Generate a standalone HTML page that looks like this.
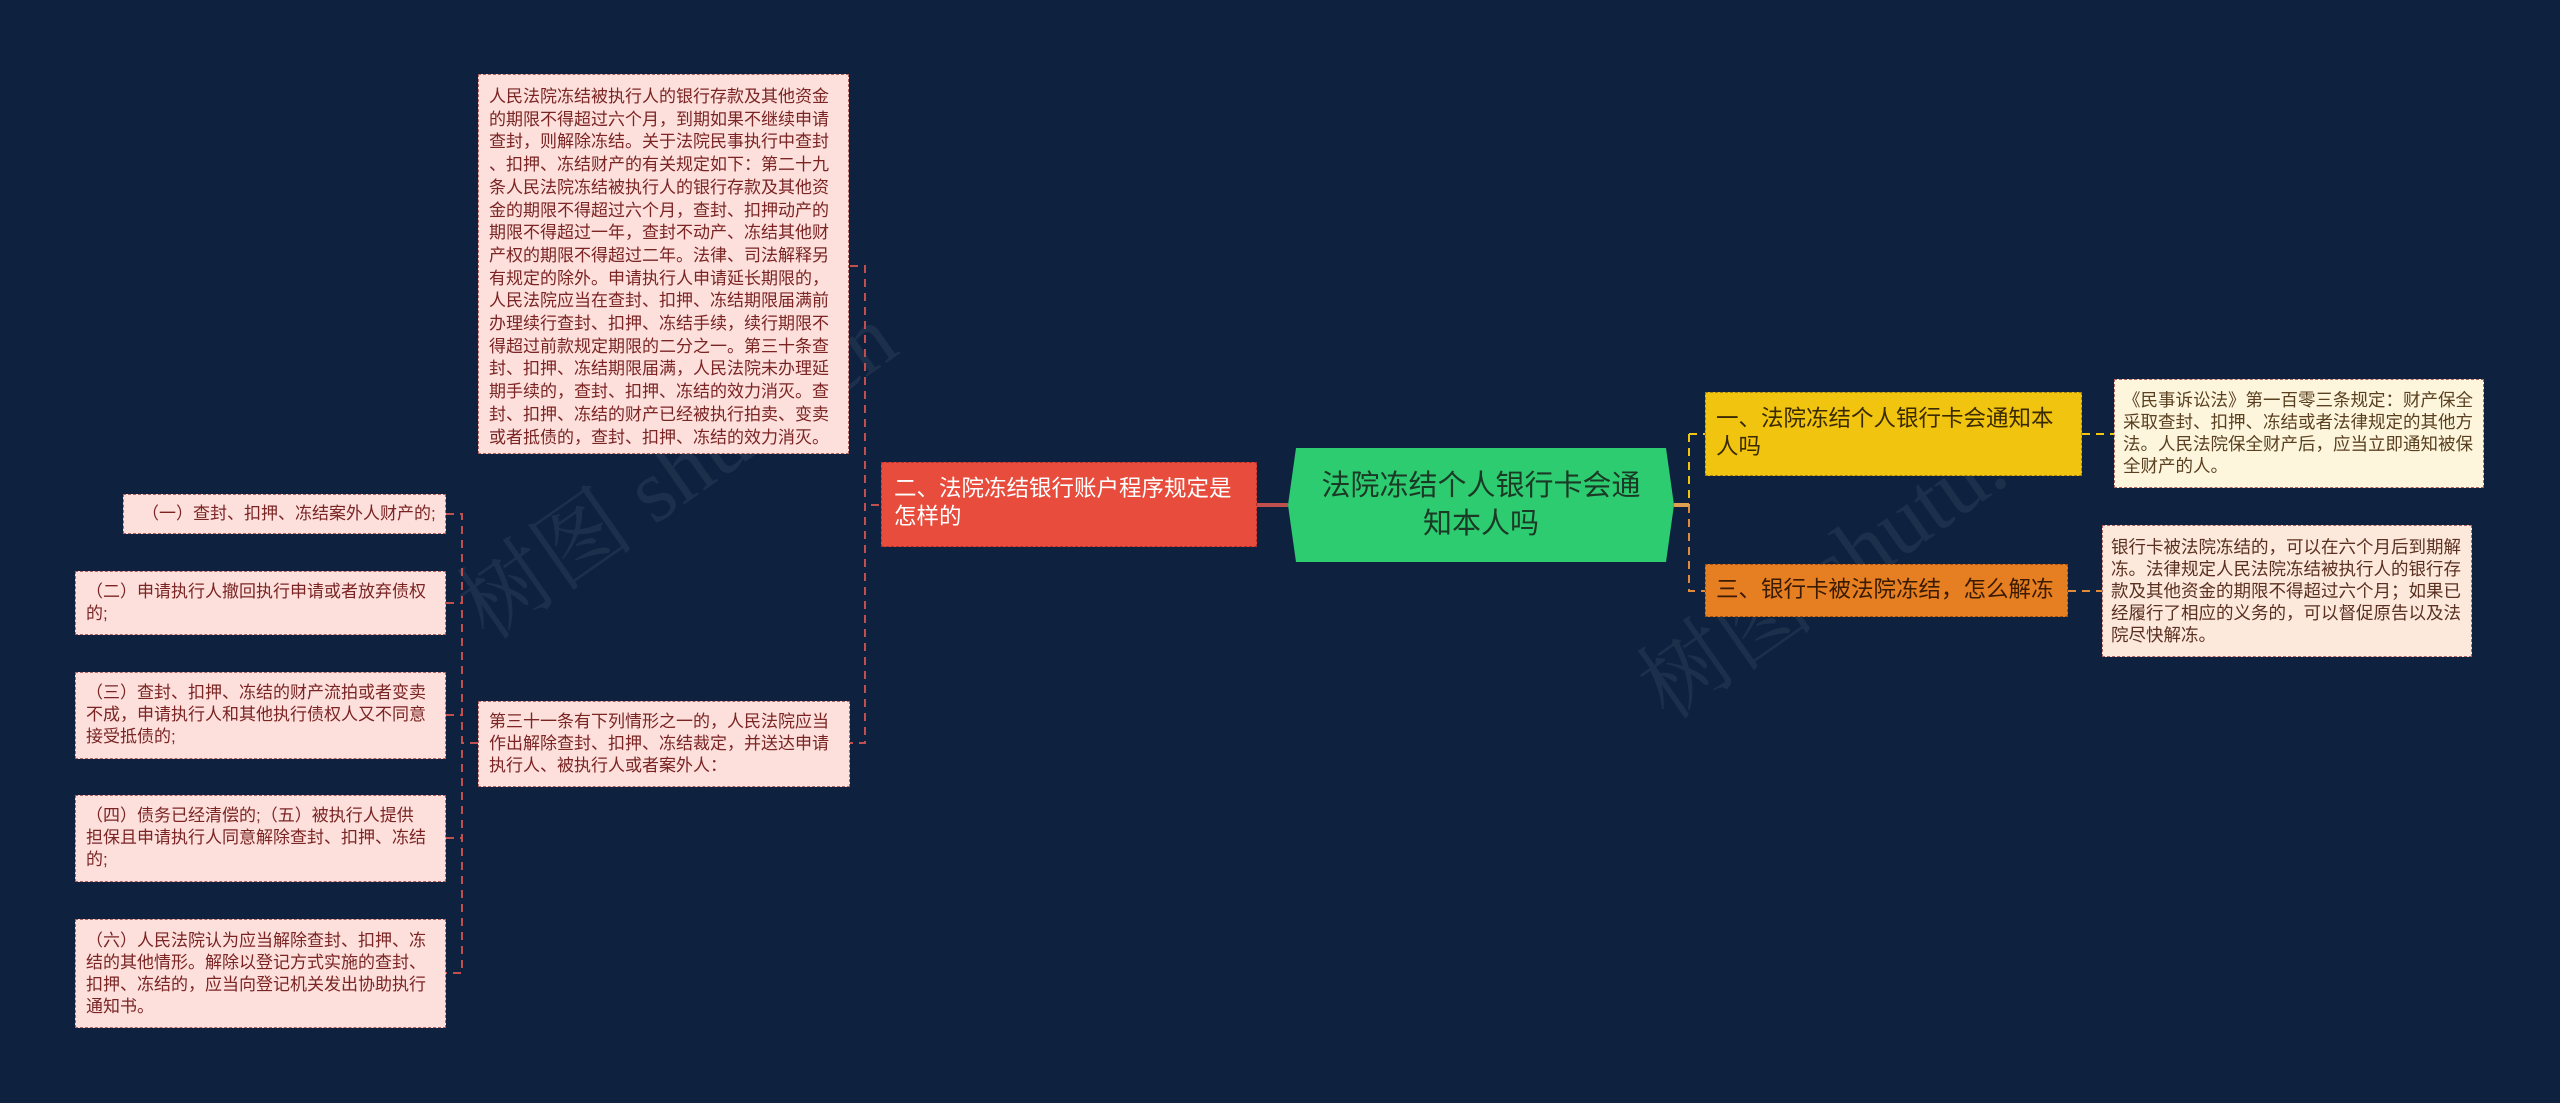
<!DOCTYPE html>
<html><head><meta charset="utf-8"><style>
html,body{margin:0;padding:0}
body{width:2560px;height:1103px;background:#0e2240;position:relative;overflow:hidden;font-family:"Liberation Sans","Noto Sans CJK SC",sans-serif}
.b{position:absolute;box-sizing:border-box;border:1.5px dashed #b06060;background:#fde0dc;color:#7a2424;font-size:17px;line-height:22px;padding:8px 10px;white-space:nowrap;overflow:visible}
.wm{position:absolute;color:rgba(255,255,255,0.06);font-size:90px;transform:rotate(-35deg);font-family:"Liberation Serif","Noto Serif CJK SC",serif;white-space:nowrap}
</style></head><body>
<div class="wm" style="left:420px;top:400px">树图 shutu.cn</div>
<div class="wm" style="left:1600px;top:480px">树图 shutu.cn</div>
<svg width="2560" height="1103" style="position:absolute;left:0;top:0">
<g fill="none" stroke-width="2" stroke-dasharray="8,6">
<path d="M850 266 H865 V743 H850" stroke="#c0504d"/>
<path d="M478 743 H462" stroke="#c0504d"/>
<path d="M446 514 H462 V973 H446" stroke="#c0504d"/>
<path d="M446 603 H462 M446 715 H462 M446 838 H462" stroke="#c0504d"/>
<path d="M1257 505 H865" stroke="#c0504d"/>
<path d="M1689 434 H1705 M1689 434 V505" stroke="#f1c40f"/>
<path d="M1689 505 V591 H1705" stroke="#e08a3a"/>
<path d="M2082 434 H2114" stroke="#f1c40f"/>
<path d="M2068 591 H2102" stroke="#e08a3a"/>
</g>
<path d="M1257 505 H1288" stroke="#c0504d" stroke-width="4"/>
<path d="M1674 505 H1689" stroke="#e0a050" stroke-width="4"/>
<polygon points="1296,448 1666,448 1674,505 1666,562 1296,562 1288,505" fill="#2ecc71"/>
</svg>
<div style="position:absolute;left:1296px;top:448px;width:370px;height:114px;display:flex;align-items:center;justify-content:center;text-align:center;font-size:29px;line-height:38px;color:#1a3a25">法院冻结个人银行卡会通<br>知本人吗</div>
<div class="b" style="left:478px;top:74px;width:371px;height:380px;line-height:22.7px;padding:11px 10px">人民法院冻结被执行人的银行存款及其他资金<br>的期限不得超过六个月，到期如果不继续申请<br>查封，则解除冻结。关于法院民事执行中查封<br>、扣押、冻结财产的有关规定如下：第二十九<br>条人民法院冻结被执行人的银行存款及其他资<br>金的期限不得超过六个月，查封、扣押动产的<br>期限不得超过一年，查封不动产、冻结其他财<br>产权的期限不得超过二年。法律、司法解释另<br>有规定的除外。申请执行人申请延长期限的，<br>人民法院应当在查封、扣押、冻结期限届满前<br>办理续行查封、扣押、冻结手续，续行期限不<br>得超过前款规定期限的二分之一。第三十条查<br>封、扣押、冻结期限届满，人民法院未办理延<br>期手续的，查封、扣押、冻结的效力消灭。查<br>封、扣押、冻结的财产已经被执行拍卖、变卖<br>或者抵债的，查封、扣押、冻结的效力消灭。</div>
<div class="b" style="left:881px;top:462px;width:376px;height:85px;background:#e74c3c;color:#fff;font-size:22.5px;line-height:28px;padding:12px 12px;border-color:#b03030">二、法院冻结银行账户程序规定是<br>怎样的</div>
<div class="b" style="left:478px;top:701px;width:372px;height:86px;padding:9px 10px">第三十一条有下列情形之一的，人民法院应当<br>作出解除查封、扣押、冻结裁定，并送达申请<br>执行人、被执行人或者案外人：</div>
<div class="b" style="left:123px;top:494px;width:323px;height:40px;padding:8px 10px 0 18px">（一）查封、扣押、冻结案外人财产的;</div>
<div class="b" style="left:75px;top:571px;width:371px;height:64px;padding:9px 10px">（二）申请执行人撤回执行申请或者放弃债权<br>的;</div>
<div class="b" style="left:75px;top:672px;width:371px;height:87px;padding:9px 10px">（三）查封、扣押、冻结的财产流拍或者变卖<br>不成，申请执行人和其他执行债权人又不同意<br>接受抵债的;</div>
<div class="b" style="left:75px;top:795px;width:371px;height:87px;padding:9px 10px">（四）债务已经清偿的;（五）被执行人提供<br>担保且申请执行人同意解除查封、扣押、冻结<br>的;</div>
<div class="b" style="left:75px;top:919px;width:371px;height:109px;padding:10px 10px">（六）人民法院认为应当解除查封、扣押、冻<br>结的其他情形。解除以登记方式实施的查封、<br>扣押、冻结的，应当向登记机关发出协助执行<br>通知书。</div>
<div class="b" style="left:1705px;top:392px;width:377px;height:84px;background:#f1c40f;color:#3a2a00;font-size:22.5px;line-height:28px;padding:12px 10px;border-color:#a08010">一、法院冻结个人银行卡会通知本<br>人吗</div>
<div class="b" style="left:1705px;top:564px;width:363px;height:53px;background:#e67e22;color:#3a1a00;font-size:22.5px;line-height:28px;padding:11px 10px;border-color:#a05010">三、银行卡被法院冻结，怎么解冻</div>
<div class="b" style="left:2114px;top:379px;width:370px;height:109px;background:#fdf6dc;color:#5a4020;font-size:17.5px;padding:9px 8px">《民事诉讼法》第一百零三条规定：财产保全<br>采取查封、扣押、冻结或者法律规定的其他方<br>法。人民法院保全财产后，应当立即通知被保<br>全财产的人。</div>
<div class="b" style="left:2102px;top:525px;width:370px;height:132px;background:#fde9dc;color:#5a3020;font-size:17.5px;padding:10px 8px">银行卡被法院冻结的，可以在六个月后到期解<br>冻。法律规定人民法院冻结被执行人的银行存<br>款及其他资金的期限不得超过六个月；如果已<br>经履行了相应的义务的，可以督促原告以及法<br>院尽快解冻。</div>
</body></html>
